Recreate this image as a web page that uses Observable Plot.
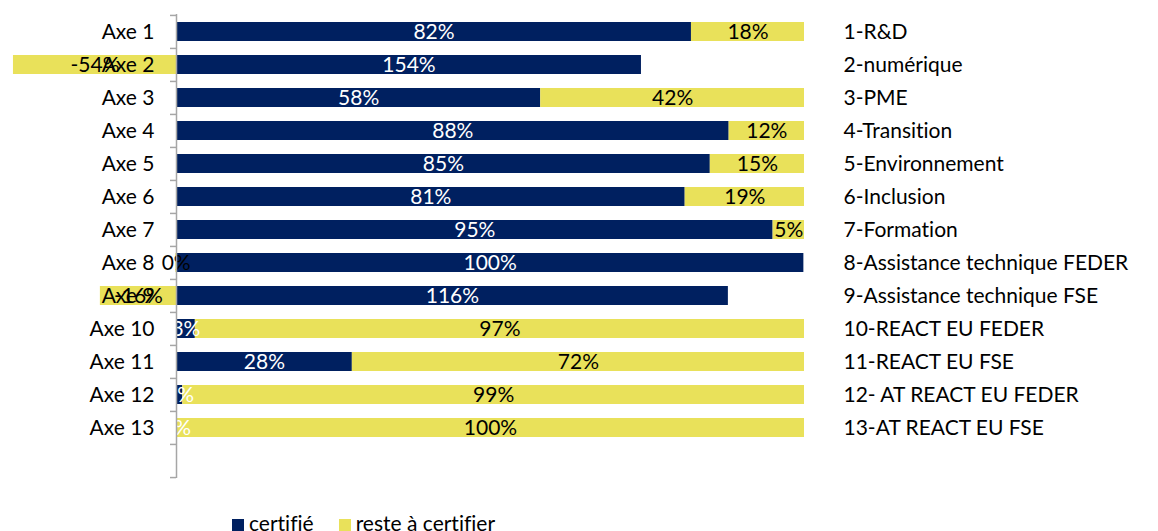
<!DOCTYPE html>
<html><head><meta charset="utf-8">
<script src="https://cdn.jsdelivr.net/npm/d3@7"></script>
<script src="https://cdn.jsdelivr.net/npm/@observablehq/plot@0.6"></script>
<style>
body{margin:0;background:#fff;font-family:Lato,sans-serif;font-variant-ligatures:none;}
svg text{font-variant-ligatures:none;font-feature-settings:"liga" 0,"clig" 0;}
#wrap{position:relative;width:1158px;height:531px;overflow:hidden;}
#legend{position:absolute;left:232px;top:511px;font-size:21px;line-height:24px;color:#000;display:flex;align-items:center;white-space:nowrap;font-feature-settings:"liga" 0,"clig" 0;}
#legend span.sw{display:inline-block;width:12px;height:12px;margin-right:5px;margin-top:4px;}
#legend span.it{display:inline-flex;align-items:center;margin-right:25px;}
</style>
</head><body>
<div id="wrap"><div id="chart"></div><div id="legend"></div></div>
<script>
const axes = ["Axe 1","Axe 2","Axe 3","Axe 4","Axe 5","Axe 6","Axe 7","Axe 8","Axe 9","Axe 10","Axe 11","Axe 12","Axe 13"];
const certifie = [82,154,58,88,85,81,95,100,116,3,28,1,0];
const reste = [18,-54,42,12,15,19,5,-0.1,-16,97,72,99,100];
const names = ["1-R&D","2-numérique","3-PME","4-Transition","5-Environnement","6-Inclusion","7-Formation","8-Assistance technique FEDER","9-Assistance technique FSE","10-REACT EU FEDER","11-REACT EU FSE","12- AT REACT EU FEDER","13-AT REACT EU FSE"];
const series = ["certifié","reste à certifier"];
const colors = ["#002060","#E9E15A"];

const table = [];
axes.forEach((a,i)=>{
  const tot = Math.abs(certifie[i]) + Math.abs(reste[i]);
  table.push({axe:a, series:series[0], value:certifie[i], share:certifie[i]/tot});
  table.push({axe:a, series:series[1], value:reste[i], share:reste[i]/tot});
});
const yDomain = [...axes, ""];
const W = 1158, H = 500, mT = 14, mB = 22, mL = 176, mR = 354;
const step = (H - mT - mB) / yDomain.length;
const fmt = v => `${Math.round(v)}%`;
const grey = "#a6a6a6";
const FS = 21;

const chart = Plot.plot({
  width: W, height: H,
  marginTop: mT, marginBottom: mB, marginLeft: mL, marginRight: mR,
  style: {fontFamily: 'Lato, sans-serif', fontSize: FS + "px", color: "#000", background: "#fff", overflow: "visible"},
  x: {domain: [0, 1], axis: null},
  y: {domain: yDomain, paddingInner: 0.42, paddingOuter: 0.21, axis: null},
  color: {domain: series, range: colors},
  marks: [
    Plot.barX(table, {x: "share", y: "axe", fill: "series"}),
    Plot.axisY({anchor: "left", label: null, tickSize: 0, tickPadding: 22, fontSize: FS, fill: "#000"}),
    Plot.axisY({anchor: "right", label: null, tickSize: 0, tickPadding: 39, fontSize: FS, fill: "#000",
      tickFormat: d => { const k = axes.indexOf(d); return k >= 0 ? names[k] : ""; }}),
    Plot.text(table, Plot.stackX({x: "share", y: "axe", fill: "white", fontSize: FS,
      text: d => d.series === series[0] ? fmt(d.value) : ""})),
    Plot.text(table, Plot.stackX({x: "share", y: "axe", fill: "black", fontSize: FS,
      text: d => d.series === series[1] ? fmt(d.value) : ""})),
    Plot.ruleX([0], {stroke: grey, strokeWidth: 1.5}),
    Plot.ruleY(yDomain, {y: d => d, x1: -0.0096, x2: 0, dy: -step/2, stroke: grey, strokeWidth: 1.5}),
    Plot.ruleY([yDomain[yDomain.length-1]], {y: d => d, x1: -0.0096, x2: 0, dy: step/2, stroke: grey, strokeWidth: 1.5})
  ]
});
document.getElementById("chart").appendChild(chart);

const leg = document.getElementById("legend");
series.forEach((s,i)=>{
  const it = document.createElement("span"); it.className = "it";
  const sw = document.createElement("span"); sw.className = "sw"; sw.style.background = colors[i];
  it.appendChild(sw); it.appendChild(document.createTextNode(s));
  leg.appendChild(it);
});
</script>
</body></html>
